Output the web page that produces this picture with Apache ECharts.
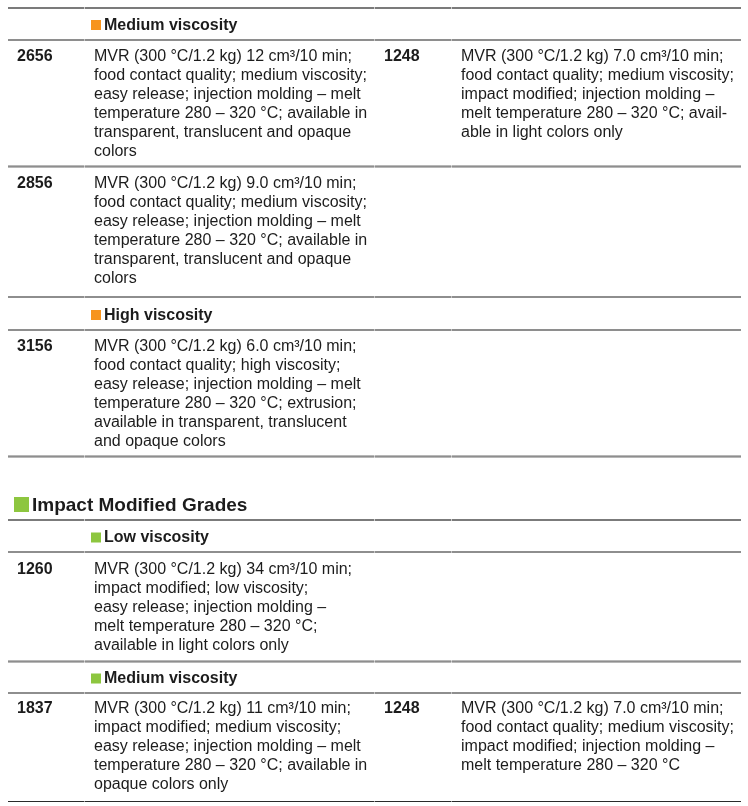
<!DOCTYPE html>
<html>
<head>
<meta charset="utf-8">
<style>
  html, body { margin: 0; padding: 0; background: #ffffff; }
  #chart { width: 748px; height: 806px; }
</style>
<script src="https://cdn.jsdelivr.net/npm/echarts@6/dist/echarts.min.js"></script>
</head>
<body>
<div id="chart"></div>
<script>
// ---------- DATA ----------
const sectionTitle = 'Impact Modified Grades';
const subHeaders = ['Medium viscosity', 'High viscosity', 'Low viscosity', 'Medium viscosity'];
const subHeaderGroup = ['orange', 'orange', 'green', 'green'];
const gradeCodes = ['2656', '2856', '3156', '1260', '1837'];
const gradeDescriptions = [
  ['MVR (300 °C/1.2 kg) 12 cm³/10 min;', 'food contact quality; medium viscosity;', 'easy release; injection molding – melt', 'temperature 280 – 320 °C; available in', 'transparent, translucent and opaque', 'colors'],
  ['MVR (300 °C/1.2 kg) 9.0 cm³/10 min;', 'food contact quality; medium viscosity;', 'easy release; injection molding – melt', 'temperature 280 – 320 °C; available in', 'transparent, translucent and opaque', 'colors'],
  ['MVR (300 °C/1.2 kg) 6.0 cm³/10 min;', 'food contact quality; high viscosity;', 'easy release; injection molding – melt', 'temperature 280 – 320 °C; extrusion;', 'available in transparent, translucent', 'and opaque colors'],
  ['MVR (300 °C/1.2 kg) 34 cm³/10 min;', 'impact modified; low viscosity;', 'easy release; injection molding –', 'melt temperature 280 – 320 °C;', 'available in light colors only'],
  ['MVR (300 °C/1.2 kg) 11 cm³/10 min;', 'impact modified; medium viscosity;', 'easy release; injection molding – melt', 'temperature 280 – 320 °C; available in', 'opaque colors only']
];
const sideCodes = ['1248', '', '', '', '1248'];
const sideDescriptions = [
  ['MVR (300 °C/1.2 kg) 7.0 cm³/10 min;', 'food contact quality; medium viscosity;', 'impact modified; injection molding –', 'melt temperature 280 – 320 °C; avail-', 'able in light colors only'],
  [], [], [],
  ['MVR (300 °C/1.2 kg) 7.0 cm³/10 min;', 'food contact quality; medium viscosity;', 'impact modified; injection molding –', 'melt temperature 280 – 320 °C']
];

// ---------- LAYOUT (positions / styles only) ----------
const FONT = '"Liberation Sans", Arial, Helvetica, sans-serif';
const TEXT_COLOR = '#1c1c1c';
const GROUP_COLORS = { orange: '#f7941d', green: '#8dc63f' };
const LINE_H = 19;
const colX = { code: 17, desc: 94, sideCode: 384, sideDesc: 461 };
const segs = [[8, 84], [85, 374], [375, 451], [452, 741]];
const rules = [[8, 'dark'], [40, 'gray'], [166.5, 'gray'], [297, 'gray'], [330, 'gray'], [456.5, 'gray'],
               [520, 'dark'], [552, 'gray'], [661.5, 'gray'], [693, 'gray'], [801.5, 'dark']];
const headerBaselines = [30, 320, 542.5, 683.5];
const rowFirstCenters = [56.5, 183.5, 346.5, 569.5, 708.5];
const titleBaseline = 512;

// ---------- BUILD ----------
const g = [];
rules.forEach(([y, kind]) => {
  const dark = kind === 'dark';
  // faint continuous underlay so the column joints read as subtle breaks
  g.push({ type: 'line', silent: true,
    shape: { x1: segs[0][0], y1: y, x2: segs[segs.length - 1][1], y2: y },
    style: { stroke: dark ? '#9a9a9a' : '#c4c4c4', lineWidth: dark ? 1.2 : 1.8 } });
  segs.forEach(([x1, x2]) => {
    g.push({ type: 'line', silent: true,
      shape: { x1: x1, y1: y, x2: x2, y2: y },
      style: dark ? { stroke: '#2a2a2a', lineWidth: 1.2 } : { stroke: '#8e8e8e', lineWidth: 1.8 } });
  });
});

// section title
g.push({ type: 'rect', shape: { x: 14, y: titleBaseline - 15, width: 15, height: 15 }, style: { fill: GROUP_COLORS.green } });
g.push({ type: 'text', x: 32, y: titleBaseline - 6, style: { text: sectionTitle, font: 'bold 19px ' + FONT, fill: TEXT_COLOR, verticalAlign: 'middle' } });

// sub headers
subHeaders.forEach((h, i) => {
  const b = headerBaselines[i];
  g.push({ type: 'rect', shape: { x: 91, y: b - 10, width: 10, height: 10 }, style: { fill: GROUP_COLORS[subHeaderGroup[i]] } });
  g.push({ type: 'text', x: 104, y: b - 4.5, style: { text: h, font: 'bold 16px ' + FONT, fill: TEXT_COLOR, verticalAlign: 'middle' } });
});

function cell(x, yc, lines, bold) {
  if (!lines || !lines.length) return;
  g.push({ type: 'text', x: x, y: yc - LINE_H / 2,
    style: { text: lines.join('\n'), font: (bold ? 'bold ' : '') + '16px ' + FONT, lineHeight: LINE_H, fill: TEXT_COLOR, verticalAlign: 'top' } });
}
gradeCodes.forEach((c, i) => {
  const yc = rowFirstCenters[i];
  cell(colX.code, yc, [c], true);
  cell(colX.desc, yc, gradeDescriptions[i], false);
  if (sideCodes[i]) cell(colX.sideCode, yc, [sideCodes[i]], true);
  cell(colX.sideDesc, yc, sideDescriptions[i], false);
});

const chart = echarts.init(document.getElementById('chart'), null, { renderer: 'canvas' });
chart.setOption({ backgroundColor: '#ffffff', animation: false, graphic: { elements: g } });
</script>
</body>
</html>
